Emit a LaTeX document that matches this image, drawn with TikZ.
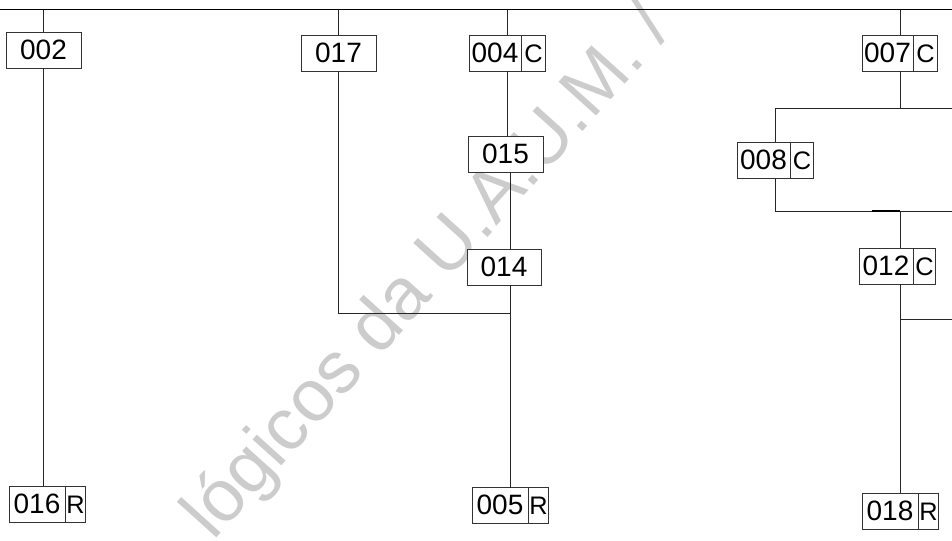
\documentclass[tikz,border=0pt]{standalone}
\usepackage{fontspec}
\setmainfont{Liberation Sans}
\usetikzlibrary{shapes.multipart}
\newlength\px
\setlength\px{0.75pt}
\newcommand\numcell[2]{\makebox[#1\px]{\rule[-6.75pt]{0pt}{27pt}\fontsize{21}{21}\selectfont #2}}
\newcommand\letcell[2]{\makebox[#1\px]{\rule[-6.75pt]{0pt}{27pt}\fontsize{19}{19}\selectfont #2}}
\tikzset{
  onebox/.style={draw=black!80, fill=white, line width=0.75pt, inner sep=0pt, outer sep=0pt},
  twobox/.style={draw=black!80, fill=white, line width=0.75pt, inner sep=0pt, outer sep=0pt,
    rectangle split, rectangle split horizontal, rectangle split parts=2},
  conn/.style={draw=black!85, line width=0.75pt},
  topline/.style={draw=black, line width=1.1pt},
  mark wm/.style={text=black!20, rotate=48, anchor=base west, inner sep=0pt,
    font=\fontsize{55}{55}\selectfont}
}
\begin{document}
\begin{tikzpicture}[x=0.75pt, y=-0.75pt]
\useasboundingbox (0,0) rectangle (952,540);
\clip (0,0) rectangle (952,540);
\fill[white] (0,0) rectangle (952,540);
% watermark
\node[mark wm] (wm) at (213,542) {lógicos da U.A.U.M. /};
% top line
\coordinate (L) at (0,9.5);
\coordinate (R) at (952,9.5);
\draw[topline] (L) -- (R);
% boxes
\node[onebox] (n002) at (43.5,50) {\numcell{75}{002}};
\node[twobox] (n016) at (47.5,504.5) {\numcell{55}{016}\nodepart{two}\letcell{20}{R}};
\node[onebox] (n017) at (338.5,53) {\numcell{75}{017}};
\node[twobox] (n004) at (507.5,53) {\numcell{51}{004}\nodepart{two}\letcell{24}{C}};
\node[onebox] (n015) at (505.5,154) {\numcell{75}{015}};
\node[onebox] (n014) at (504,267) {\numcell{74}{014}};
\node[twobox] (n005) at (510.5,505.5) {\numcell{55}{005}\nodepart{two}\letcell{20}{R}};
\node[twobox] (n007) at (900,53) {\numcell{50}{007}\nodepart{two}\letcell{24}{C}};
\node[twobox] (n008) at (775.5,160) {\numcell{52}{008}\nodepart{two}\letcell{23}{C}};
\node[twobox] (n012) at (897.5,266) {\numcell{53}{012}\nodepart{two}\letcell{22}{C}};
\node[twobox] (n018) at (900.5,511) {\numcell{55}{018}\nodepart{two}\letcell{20}{R}};
% junction coordinates
\coordinate (j1) at (510.5,313);
\coordinate (t1) at (900,108);
\coordinate (e1) at (952,108);
\coordinate (t2) at (900,211);
\coordinate (k2) at (872,211);
\coordinate (e2) at (952,211);
\coordinate (t3) at (900,319);
\coordinate (e3) at (952,319);
% connectors
\draw[conn] (n002.north |- L) -- (n002.north);
\draw[conn] (n002.south) -- (n002.south |- n016.north);
\draw[conn] (n017.north |- L) -- (n017.north);
\draw[conn] (n017.south) |- (j1);
\draw[conn] (n004.north |- L) -- (n004.north);
\draw[conn] (n004.south) -- (n004.south |- n015.north);
\draw[conn] (j1 |- n015.south) -- (j1 |- n014.north);
\draw[conn] (j1 |- n014.south) -- (n005.north);
\draw[conn] (n007.north |- L) -- (n007.north);
\draw[conn] (n007.south) -- (t1);
\draw[conn] (e1) -| (n008.north);
\draw[conn] (n008.south) |- (e2);
\draw[draw=black, line width=1.5pt] (k2) -- (t2);
\draw[conn] (t2) -- (t2 |- n012.north);
\draw[conn] (t2 |- n012.south) -- (t2 |- n018.north);
\draw[conn] (t3) -- (e3);
\end{tikzpicture}
\end{document}
